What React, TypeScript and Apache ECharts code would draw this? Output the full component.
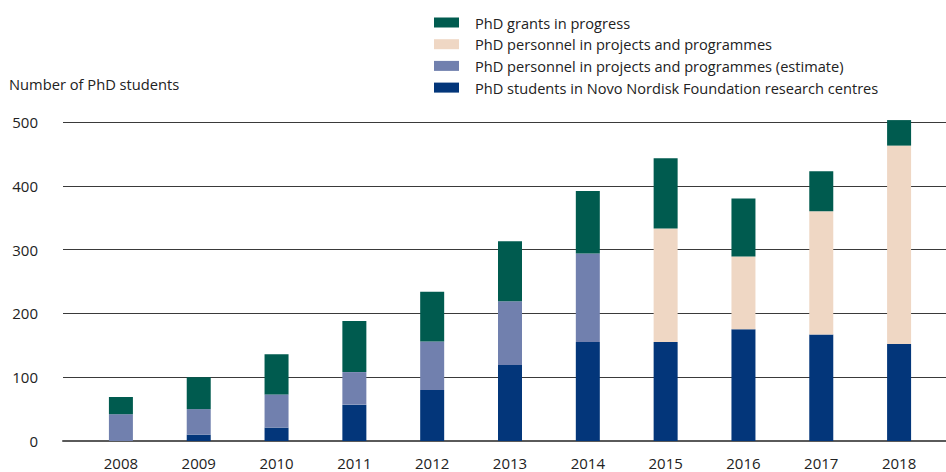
import React, { useEffect, useRef } from "react";
import * as echarts from "echarts";

const years = ["2008", "2009", "2010", "2011", "2012", "2013", "2014", "2015", "2016", "2017", "2018"];
const centres = [0, 10, 21, 57, 80, 119, 155, 155, 175, 167, 152];
const estimate = [42, 40, 52, 51, 76, 100, 139, 0, 0, 0, 0];
const personnel = [0, 0, 0, 0, 0, 0, 0, 178, 114, 193, 311];
const grants = [27, 50, 63, 80, 78, 94, 98, 110, 91, 63, 40];
const yTicks = { min: 0, max: 500, interval: 100 };

const names = {
  grants: "PhD grants in progress",
  personnel: "PhD personnel in projects and programmes",
  estimate: "PhD personnel in projects and programmes (estimate)",
  centres: "PhD students in Novo Nordisk Foundation research centres",
};

const FONT = "'Open Sans', sans-serif";

export default function App() {
  const ref = useRef<HTMLDivElement>(null);
  useEffect(() => {
    if (!ref.current) return;
    const chart = echarts.init(ref.current, null, { renderer: "svg" });
    const barBase = {
      type: "bar" as const,
      stack: "total",
      xAxisIndex: 1,
      yAxisIndex: 1,
      barWidth: 24,
      clip: false,
    };
    chart.setOption({
      animation: false,
      textStyle: { fontFamily: FONT },
      title: {
        text: "Number of PhD students",
        left: 4,
        top: 71,
        textStyle: { fontFamily: FONT, fontSize: 14.7, fontWeight: "normal", color: "#222" },
      },
      legend: {
        orient: "vertical",
        left: 429,
        top: 10,
        itemWidth: 25,
        itemHeight: 10,
        itemGap: 6.7,
        icon: "rect",
        data: [names.grants, names.personnel, names.estimate, names.centres],
        textStyle: { fontFamily: FONT, fontSize: 14.6, color: "#222", lineHeight: 14.6, padding: [0, 0, 0, 11] },
        selectedMode: false,
      },
      grid: [
        { left: 63, right: 0, top: 122, height: 319 },
        { left: 82, right: 8, top: 122, height: 319 },
      ],
      xAxis: [
        {
          type: "value",
          gridIndex: 0,
          min: 0,
          max: 1,
          axisLine: { show: true, lineStyle: { color: "#5a5a5a", width: 2 } },
          axisTick: { show: false },
          axisLabel: { show: false },
          splitLine: { show: false },
        },
        {
          type: "category",
          gridIndex: 1,
          data: years,
          axisLine: { show: false },
          axisTick: { show: false },
          axisLabel: { fontFamily: FONT, fontSize: 15, color: "#222", margin: 14 },
        },
      ],
      yAxis: [
        {
          type: "value",
          gridIndex: 0,
          min: yTicks.min,
          max: yTicks.max,
          interval: yTicks.interval,
          axisLine: { show: false },
          axisTick: { show: false },
          axisLabel: { fontFamily: FONT, fontSize: 15, color: "#222", margin: 25 },
          splitLine: { lineStyle: { color: "#3a3a3a", width: 1 } },
        },
        {
          type: "value",
          gridIndex: 1,
          min: yTicks.min,
          max: yTicks.max,
          interval: yTicks.interval,
          show: false,
          splitLine: { show: false },
        },
      ],
      series: [
        { ...barBase, name: names.centres, data: centres, itemStyle: { color: "#03367A" } },
        { ...barBase, name: names.estimate, data: estimate, itemStyle: { color: "#7180AE" } },
        { ...barBase, name: names.personnel, data: personnel, itemStyle: { color: "#EFD7C4" } },
        { ...barBase, name: names.grants, data: grants, itemStyle: { color: "#005B4F" } },
      ],
    });
    return () => chart.dispose();
  }, []);
  return (
    <div
      ref={ref}
      style={{ position: "fixed", left: 0, top: 0, width: 946, height: 472, background: "#fff" }}
    />
  );
}
